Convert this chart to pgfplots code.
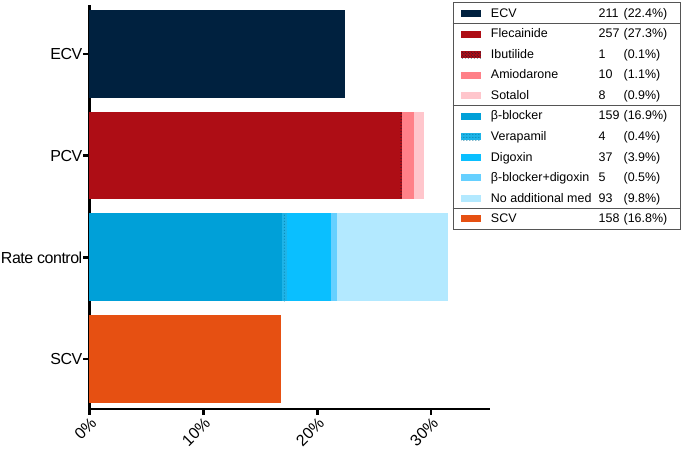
\documentclass[border=0pt]{standalone}
\usepackage{fontspec}
\setmainfont{Liberation Sans}
\newfontfamily\tickfont{Liberation Sans}[LetterSpace=-3]
\usepackage{pgfplots}
\pgfplotsset{compat=1.18}
\usetikzlibrary{patterns}
\definecolor{cECV}{RGB}{0,33,63}
\definecolor{cFle}{RGB}{174,13,21}
\definecolor{cAmi}{RGB}{255,128,136}
\definecolor{cSot}{RGB}{255,198,204}
\definecolor{cBet}{RGB}{0,160,216}
\definecolor{cVer}{RGB}{30,180,232}
\definecolor{cDig}{RGB}{10,191,255}
\definecolor{cBD}{RGB}{102,208,255}
\definecolor{cNo}{RGB}{179,233,255}
\definecolor{cSCV}{RGB}{230,80,18}
\definecolor{cBorder}{RGB}{85,85,85}
\pgfplotsset{sw/.style={legend image code/.code={\fill[##1] (0pt,-3.5pt) rectangle (20pt,3.5pt);}}}
\newcommand{\ent}[3]{\makebox[108pt][l]{#1}\makebox[25pt][l]{#2}\makebox[49pt][l]{(#3\%)}}
\begin{document}
\begin{tikzpicture}
\begin{axis}[
 scale only axis, width=402pt, height=405pt,
 xbar stacked, bar width=88pt,
 xmin=0, xmax=35.2, ymin=-0.49, ymax=3.48,
 axis lines=left, axis line style={-, line width=2.4pt},
 xtick={0,10,20,30}, xticklabels={0\%,10\%,20\%,30\%},
 ytick={0,1,2,3}, yticklabels={SCV,Rate control,PCV,ECV},
 tick align=outside, major tick length=6pt,
 tick style={line width=2.4pt, black},
 x tick label style={font=\fontsize{16}{18}\selectfont, rotate=45, anchor=north east, inner sep=1pt},
 y tick label style={font=\tickfont\fontsize{16}{18}\selectfont, inner sep=1pt},
 legend cell align=left,
 legend style={at={(0.9055,1.0074)}, anchor=north west, draw=cBorder, line width=1pt,
   inner xsep=8pt, inner ysep=0.7pt, row sep=0pt, column sep=10pt,
   font=\fontsize{12.5}{14}\selectfont,
   nodes={inner xsep=0pt, inner ysep=0pt, minimum height=20.6pt}},
 clip=false,
]
\addplot[fill=cECV, draw=none, sw] coordinates {(22.4,3) (0,2) (0,1) (0,0)};
\addlegendentry{\ent{ECV}{211}{22.4}}
\addplot[fill=cFle, draw=none, sw] coordinates {(0,3) (27.3,2) (0,1) (0,0)};
\addlegendentry{\ent{Flecainide}{257}{27.3}}
\addplot[fill=cFle, draw=none, postaction={pattern=crosshatch dots, pattern color=cECV}, sw] coordinates {(0,3) (0.1,2) (0,1) (0,0)};
\addlegendentry{\ent{Ibutilide}{1}{0.1}}
\addplot[fill=cAmi, draw=none, sw] coordinates {(0,3) (1.1,2) (0,1) (0,0)};
\addlegendentry{\ent{Amiodarone}{10}{1.1}}
\addplot[fill=cSot, draw=none, sw] coordinates {(0,3) (0.9,2) (0,1) (0,0)};
\addlegendentry{\ent{Sotalol}{8}{0.9}}
\addplot[fill=cBet, draw=none, sw] coordinates {(0,3) (0,2) (16.9,1) (0,0)};
\addlegendentry{\ent{β-blocker}{159}{16.9}}
\addplot[fill=cVer, draw=none, postaction={pattern=dots, pattern color=cBet!70!black}, sw] coordinates {(0,3) (0,2) (0.4,1) (0,0)};
\addlegendentry{\ent{Verapamil}{4}{0.4}}
\addplot[fill=cDig, draw=none, sw] coordinates {(0,3) (0,2) (3.9,1) (0,0)};
\addlegendentry{\ent{Digoxin}{37}{3.9}}
\addplot[fill=cBD, draw=none, sw] coordinates {(0,3) (0,2) (0.5,1) (0,0)};
\addlegendentry{\ent{β-blocker+digoxin}{5}{0.5}}
\addplot[fill=cNo, draw=none, sw] coordinates {(0,3) (0,2) (9.8,1) (0,0)};
\addlegendentry{\ent{No additional med}{93}{9.8}}
\addplot[fill=cSCV, draw=none, sw] coordinates {(0,3) (0,2) (0,1) (16.8,0)};
\addlegendentry{\ent{SCV}{158}{16.8}}
\end{axis}
\draw[cBorder, line width=1pt] ([shift={(364pt,386.7pt)}]current axis.south west) -- ++(228pt,0);
\draw[cBorder, line width=1pt] ([shift={(364pt,304.3pt)}]current axis.south west) -- ++(228pt,0);
\draw[cBorder, line width=1pt] ([shift={(364pt,201.3pt)}]current axis.south west) -- ++(228pt,0);
\path ([shift={(-88pt,-34pt)}]current axis.south west) rectangle ([shift={(597pt,410pt)}]current axis.south west);
\end{tikzpicture}
\end{document}
